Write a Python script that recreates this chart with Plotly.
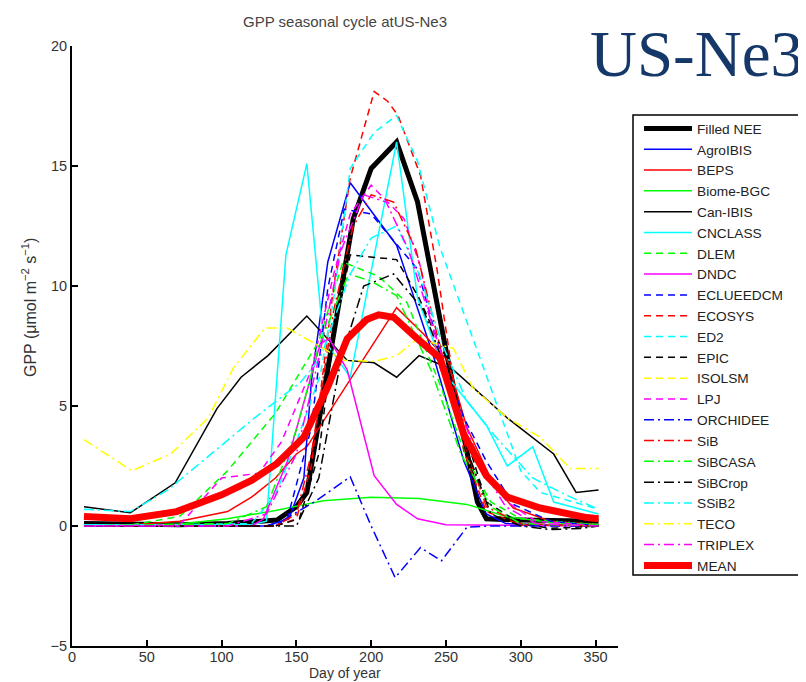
import plotly.graph_objects as go

# ---------------- data (day of year, GPP umol m-2 s-1) ----------------
FILLED_NEE_DAY = [8, 40, 72, 104, 120, 137, 150, 157, 188, 200, 217, 231, 251, 262, 271, 277, 300, 352]
FILLED_NEE_GPP = [0.1, 0.05, 0.05, 0.1, 0.15, 0.25, 0.8, 1.4, 12.8, 14.9, 16.0, 13.5, 7.0, 3.8, 1.0, 0.3, 0.25, 0.2]

AGROIBIS_DAY = [8, 130, 145, 155, 160, 171, 186, 217, 242, 262, 277, 290, 352]
AGROIBIS_GPP = [0, 0, 0.3, 2.0, 6.0, 11.0, 14.3, 11.7, 7.0, 2.7, 0.5, 0.1, 0]

BEPS_DAY = [8, 40, 72, 104, 120, 136, 150, 157, 217, 235, 251, 264, 282, 295, 320, 352]
BEPS_GPP = [0.05, 0.05, 0.2, 0.6, 1.2, 2.0, 3.0, 3.3, 9.1, 8.0, 6.9, 4.1, 1.7, 0.75, 0.2, 0.05]

BIOME_BGC_DAY = [8, 40, 72, 104, 136, 168, 200, 232, 264, 290, 320, 352]
BIOME_BGC_GPP = [0.02, 0.03, 0.08, 0.3, 0.65, 1.05, 1.2, 1.15, 0.9, 0.4, 0.15, 0.05]

CANIBIS_DAY = [8, 39, 69, 97, 113, 131, 157, 184, 202, 217, 232, 255, 291, 322, 337, 352]
CANIBIS_GPP = [0.8, 0.55, 1.8, 4.9, 6.2, 7.1, 8.75, 6.9, 6.8, 6.2, 7.1, 6.5, 4.5, 3.0, 1.4, 1.5]

CNCLASS_DAY = [8, 120, 130, 143, 157, 168, 186, 217, 231, 250, 277, 291, 308, 322, 352]
CNCLASS_GPP = [0.05, 0.05, 0.2, 11.3, 15.1, 7.8, 6.2, 16.0, 9.5, 6.3, 4.2, 2.5, 3.3, 1.0, 0.5]

DLEM_DAY = [8, 40, 72, 104, 136, 165, 181, 205, 224, 246, 264, 280, 300, 352]
DLEM_GPP = [0.0, 0.05, 0.4, 2.3, 4.7, 7.7, 11.0, 10.4, 9.3, 5.9, 2.8, 1.0, 0.3, 0.05]

DNDC_DAY = [8, 120, 128, 144, 166, 172, 184, 202, 217, 231, 250, 352]
DNDC_GPP = [0, 0, 0.3, 2.7, 7.6, 7.8, 6.5, 2.1, 0.9, 0.3, 0.05, 0]

ECLUEEDCM_DAY = [8, 136, 144, 160, 171, 182, 200, 231, 246, 262, 277, 295, 320, 352]
ECLUEEDCM_GPP = [0, 0, 0.3, 4.1, 9.9, 13.2, 13.0, 10.7, 7.3, 4.5, 2.7, 0.9, 0.2, 0.0]

ECOSYS_DAY = [8, 136, 150, 160, 175, 186, 202, 211, 218, 233, 244, 262, 277, 300, 352]
ECOSYS_GPP = [0, 0, 0.3, 2.5, 10.0, 14.5, 18.1, 17.7, 17.1, 14.6, 10.7, 3.1, 0.6, 0.05, 0]

ED2_DAY = [8, 120, 136, 150, 166, 175, 186, 202, 217, 231, 246, 260, 275, 291, 300, 313, 352]
ED2_GPP = [0, 0.1, 1.3, 3.5, 6.3, 9.5, 14.9, 16.4, 17.1, 15.2, 11.6, 9.2, 6.6, 3.8, 2.3, 1.4, 0.7]

EPIC_DAY = [8, 136, 152, 165, 175, 186, 217, 232, 250, 262, 277, 300, 320, 336, 352]
EPIC_GPP = [0, 0, 0.3, 3.0, 8.0, 11.3, 11.1, 9.5, 7.0, 4.0, 1.0, 0.1, -0.1, -0.05, 0]

# ISOLSM: no visible curve at this site (legend entry only)
ISOLSM_DAY = [8, 352]
ISOLSM_GPP = [None, None]

LPJ_DAY = [8, 72, 100, 125, 140, 160, 175, 186, 200, 222, 233, 246, 264, 282, 291, 310, 352]
LPJ_GPP = [0, 0.05, 2.0, 2.2, 3.5, 6.5, 10.5, 13.0, 14.2, 12.8, 10.8, 6.6, 3.8, 1.7, 1.0, 0.2, 0]

ORCHIDEE_DAY = [8, 130, 140, 162, 186, 200, 216, 233, 247, 264, 280, 352]
ORCHIDEE_GPP = [0, 0, 0.2, 1.0, 2.05, 0, -2.15, -0.9, -1.45, -0.05, 0, 0]

SIB_DAY = [8, 136, 150, 160, 175, 188, 200, 215, 230, 250, 262, 277, 300, 352]
SIB_GPP = [0, 0, 0.5, 3.0, 9.0, 12.5, 13.8, 13.5, 11.5, 6.5, 3.5, 0.8, 0.1, 0]

SIBCASA_DAY = [8, 104, 130, 150, 165, 185, 200, 217, 240, 260, 280, 300, 352]
SIBCASA_GPP = [0, 0.1, 0.8, 4.0, 7.5, 10.5, 10.2, 9.6, 6.5, 3.0, 0.8, 0.1, 0]

SIBCROP_DAY = [8, 150, 165, 180, 195, 215, 235, 250, 265, 280, 300, 320, 340, 352]
SIBCROP_GPP = [0, 0, 2.0, 7.0, 10.0, 10.5, 9.0, 6.5, 3.0, 0.5, 0, -0.15, -0.1, 0]

SSIB2_DAY = [8, 39, 64, 93, 122, 153, 166, 186, 200, 217, 232, 248, 264, 282, 308, 330, 352]
SSIB2_GPP = [0.7, 0.6, 1.5, 3.0, 4.5, 6.0, 7.0, 10.5, 12.0, 12.5, 10.5, 7.5, 5.2, 3.8, 2.0, 1.3, 0.7]

TECO_DAY = [8, 40, 66, 91, 108, 129, 144, 162, 182, 202, 217, 231, 255, 268, 291, 313, 333, 352]
TECO_GPP = [3.6, 2.3, 3.0, 4.5, 6.6, 8.25, 8.25, 7.6, 6.9, 6.86, 7.1, 7.8, 7.4, 5.75, 4.5, 3.7, 2.4, 2.4]

TRIPLEX_DAY = [8, 104, 130, 150, 165, 180, 195, 210, 225, 240, 258, 275, 290, 310, 352]
TRIPLEX_GPP = [0, 0, 0.5, 3.0, 7.0, 11.5, 13.8, 13.5, 11.5, 8.5, 5.0, 2.3, 0.8, 0.1, 0]

MEAN_DAY = [8, 39, 70, 100, 120, 137, 155, 171, 184, 197, 205, 215, 231, 246, 262, 277, 291, 313, 344, 352]
MEAN_GPP = [0.4, 0.3, 0.6, 1.3, 1.9, 2.6, 3.7, 5.8, 7.8, 8.6, 8.8, 8.7, 7.8, 7.0, 3.8, 2.1, 1.2, 0.75, 0.35, 0.3]

X_TICKS = [0, 50, 100, 150, 200, 250, 300, 350]
Y_TICKS = [-5, 0, 5, 10, 15, 20]
Y_TICK_TEXT = ["\u22125", "0", "5", "10", "15", "20"]

# ---------------- styles ----------------
DASH = "7px,5px"
DASHDOT = "10px,4px,2px,4px"
series = [
    ("Filled NEE", FILLED_NEE_DAY, FILLED_NEE_GPP, "#000000", "solid", 5),
    ("AgroIBIS", AGROIBIS_DAY, AGROIBIS_GPP, "#0000FF", "solid", 1.5),
    ("BEPS", BEPS_DAY, BEPS_GPP, "#FF0000", "solid", 1.5),
    ("Biome-BGC", BIOME_BGC_DAY, BIOME_BGC_GPP, "#00FF00", "solid", 1.5),
    ("Can-IBIS", CANIBIS_DAY, CANIBIS_GPP, "#000000", "solid", 1.5),
    ("CNCLASS", CNCLASS_DAY, CNCLASS_GPP, "#00FFFF", "solid", 1.5),
    ("DLEM", DLEM_DAY, DLEM_GPP, "#00FF00", DASH, 1.5),
    ("DNDC", DNDC_DAY, DNDC_GPP, "#FF00FF", "solid", 1.5),
    ("ECLUEEDCM", ECLUEEDCM_DAY, ECLUEEDCM_GPP, "#0000FF", DASH, 1.5),
    ("ECOSYS", ECOSYS_DAY, ECOSYS_GPP, "#FF0000", DASH, 1.5),
    ("ED2", ED2_DAY, ED2_GPP, "#00FFFF", DASH, 1.5),
    ("EPIC", EPIC_DAY, EPIC_GPP, "#000000", DASH, 1.5),
    ("ISOLSM", ISOLSM_DAY, ISOLSM_GPP, "#FFFF00", DASH, 1.5),
    ("LPJ", LPJ_DAY, LPJ_GPP, "#FF00FF", DASH, 1.5),
    ("ORCHIDEE", ORCHIDEE_DAY, ORCHIDEE_GPP, "#0000FF", DASHDOT, 1.5),
    ("SiB", SIB_DAY, SIB_GPP, "#FF0000", DASHDOT, 1.5),
    ("SiBCASA", SIBCASA_DAY, SIBCASA_GPP, "#00FF00", DASHDOT, 1.5),
    ("SiBCrop", SIBCROP_DAY, SIBCROP_GPP, "#000000", DASHDOT, 1.5),
    ("SSiB2", SSIB2_DAY, SSIB2_GPP, "#00FFFF", DASHDOT, 1.5),
    ("TECO", TECO_DAY, TECO_GPP, "#FFFF00", DASHDOT, 1.5),
    ("TRIPLEX", TRIPLEX_DAY, TRIPLEX_GPP, "#FF00FF", DASHDOT, 1.5),
    ("MEAN", MEAN_DAY, MEAN_GPP, "#FF0000", "solid", 7),
]

fig = go.Figure()
for name, d, g, c, dash, w in series:
    fig.add_trace(go.Scatter(x=d, y=g, mode="lines", name=name,
                             line=dict(color=c, dash=dash, width=w)))

W, H = 806, 682
L, R, T, B = 64, 196, 38, 44
pw, ph = W - L - R, H - T - B

def px(xp):
    return (xp - L) / pw

def py(yp):
    return (H - B - yp) / ph

axis_common = dict(showline=True, linecolor="black", linewidth=2, mirror=False,
                   ticks="inside", ticklen=6, tickwidth=1.5, tickcolor="black",
                   showgrid=False, zeroline=False, automargin=False,
                   tickfont=dict(family="Liberation Sans, Arial", size=14.5, color="#333"))

fig.update_layout(
    width=W, height=H, margin=dict(l=L, r=R, t=T, b=B),
    paper_bgcolor="white", plot_bgcolor="white",
    xaxis=dict(range=[0, 365], tickvals=X_TICKS, ticklabelstandoff=-3, **axis_common),
    yaxis=dict(range=[-5, 20], tickvals=Y_TICKS, ticktext=Y_TICK_TEXT, **axis_common),
    showlegend=True,
    legend=dict(x=px(631), y=py(105), xanchor="left", yanchor="top",
                bgcolor="rgba(0,0,0,0)", borderwidth=0, itemwidth=48,
                font=dict(family="Liberation Sans, Arial", size=13.7, color="#222")),
    font=dict(family="Liberation Sans, Arial"),
)

fig.add_shape(type="rect", xref="paper", yref="paper",
              x0=px(625), x1=px(805), y0=py(567), y1=py(107),
              line=dict(color="black", width=1.5), fillcolor="rgba(0,0,0,0)", layer="below")

fig.add_annotation(text="GPP seasonal cycle atUS-Ne3", xref="paper", yref="paper",
                   x=px(337), y=py(14), showarrow=False, xanchor="center", yanchor="middle",
                   font=dict(size=15, color="#444"))
fig.add_annotation(text="Day of year", xref="paper", yref="paper",
                   x=px(337), y=py(665), showarrow=False, xanchor="center", yanchor="middle",
                   font=dict(size=14, color="#333"))
fig.add_annotation(text="GPP (\u03bcmol m<sup>\u22122</sup> s<sup>\u22121</sup>)", xref="paper", yref="paper",
                   x=px(21), y=py(300), showarrow=False, textangle=-90, xanchor="center", yanchor="middle",
                   font=dict(size=16, color="#333"))
fig.add_annotation(text="US-Ne3", xref="paper", yref="paper",
                   x=px(797), y=py(46), showarrow=False, xanchor="right", yanchor="middle",
                   font=dict(family="Liberation Serif, Times New Roman", size=65, color="#163868"))

fig.write_html("out.html")
